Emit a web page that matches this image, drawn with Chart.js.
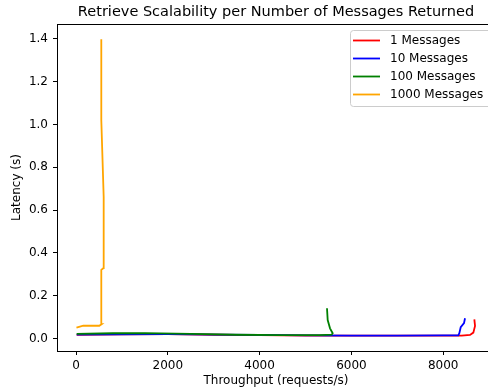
<!DOCTYPE html>
<html>
<head>
<meta charset="utf-8">
<script src="https://cdn.jsdelivr.net/npm/chart.js@4.4.1/dist/chart.umd.min.js"></script>
<style>
  html, body { margin: 0; padding: 0; background: #fff; overflow: hidden; }
  #wrap { width: 488px; height: 391px; overflow: hidden; }
  #box { position: relative; width: 496px; height: 391px; }
</style>
</head>
<body>
<div id="wrap"><div id="box"><canvas id="chart"></canvas></div></div>
<script>
const chartTitle = 'Retrieve Scalability per Number of Messages Returned';
const xTitle = 'Throughput (requests/s)';
const yTitle = 'Latency (s)';
const seriesLabels = ['1 Messages', '10 Messages', '100 Messages', '1000 Messages'];
const seriesColors = ['#ff0000', '#0000ff', '#008000', '#ffa500'];

const xTicks = [0, 2000, 4000, 6000, 8000];
const yTicks = [0, 0.2, 0.4, 0.6, 0.8, 1.0, 1.2, 1.4];

// throughput / latency pairs
const thr1 = [15, 1000, 2000, 3000, 4000, 5000, 6000, 7000, 8000, 8400, 8584, 8656, 8693, 8678];
const lat1 = [0.017, 0.019, 0.020, 0.017, 0.015, 0.013, 0.013, 0.013, 0.013, 0.013, 0.016, 0.027, 0.058, 0.089];

const thr10 = [15, 1000, 2000, 3000, 4000, 5000, 6000, 7000, 8000, 8330, 8351, 8381, 8453, 8475];
const lat10 = [0.018, 0.019, 0.020, 0.018, 0.016, 0.014, 0.013, 0.013, 0.014, 0.014, 0.024, 0.052, 0.071, 0.094];

const thr100 = [15, 800, 1500, 2500, 3500, 4500, 5300, 5570, 5592, 5534, 5483, 5468];
const lat100 = [0.021, 0.024, 0.025, 0.021, 0.017, 0.015, 0.015, 0.017, 0.024, 0.047, 0.086, 0.141];

const thr1000 = [10, 159, 508, 560, 551, 551, 595, 603, 551, 551];
const lat1000 = [0.050, 0.059, 0.059, 0.067, 0.150, 0.320, 0.328, 0.662, 1.021, 1.398];

const xs = [thr1, thr10, thr100, thr1000];
const ys = [lat1, lat10, lat100, lat1000];

const FONT = 'DejaVu Sans';

const datasets = seriesLabels.map((label, i) => ({
  label: label,
  data: xs[i].map((x, j) => ({ x: x, y: ys[i][j] })),
  borderColor: seriesColors[i],
  backgroundColor: seriesColors[i],
  borderWidth: 1.8,
  pointRadius: 0,
  tension: 0,
  order: seriesLabels.length - i // later series on top
}));

// title, top spine and matplotlib-style legend box
const decorations = {
  id: 'decorations',
  afterDraw(chart) {
    const ctx = chart.ctx;
    const a = chart.chartArea;
    ctx.save();
    ctx.strokeStyle = '#000';
    ctx.lineWidth = 1;
    ctx.beginPath();
    ctx.moveTo(a.left, a.top + 0.5);
    ctx.lineTo(a.right, a.top + 0.5);
    ctx.stroke();

    ctx.fillStyle = '#000';
    ctx.font = '14.5px "' + FONT + '"';
    ctx.textAlign = 'center';
    ctx.textBaseline = 'middle';
    ctx.fillText(chartTitle, (a.left + a.right) / 2, 12);

    // legend
    const lx = 350, ly = 30, lw = 150, lh = 76;
    ctx.fillStyle = 'rgba(255,255,255,0.8)';
    ctx.strokeStyle = '#cccccc';
    ctx.beginPath();
    ctx.roundRect(lx + 0.5, ly + 0.5, lw, lh, 3);
    ctx.fill();
    ctx.stroke();
    ctx.font = '12px "' + FONT + '"';
    ctx.textAlign = 'left';
    chart.data.datasets.forEach((ds, i) => {
      const y = 40.5 + i * 18;
      ctx.strokeStyle = ds.borderColor;
      ctx.lineWidth = 1.8;
      ctx.beginPath();
      ctx.moveTo(353, y);
      ctx.lineTo(380, y);
      ctx.stroke();
      ctx.fillStyle = '#000';
      ctx.fillText(ds.label, 390, y);
    });
    ctx.restore();
  }
};

new Chart(document.getElementById('chart'), {
  type: 'line',
  data: { datasets: datasets },
  options: {
    responsive: true,
    maintainAspectRatio: false,
    animation: false,
    layout: { padding: { top: 24, right: 1, left: 0, bottom: 0 } },
    plugins: {
      legend: { display: false },
      tooltip: { enabled: false }
    },
    scales: {
      x: {
        type: 'linear',
        min: -414,
        max: 9128,
        afterFit: (s) => { s.height = 40; },
        afterBuildTicks: (s) => { s.ticks = xTicks.map(v => ({ value: v })); },
        grid: { drawOnChartArea: false, drawTicks: true, tickLength: 4, color: '#000' },
        border: { display: true, color: '#000', width: 1 },
        ticks: {
          color: '#000',
          padding: 4,
          maxRotation: 0,
          font: { family: FONT, size: 12 },
          callback: (v) => String(v)
        },
        title: {
          display: true,
          text: xTitle,
          color: '#000',
          padding: { top: 0, bottom: 3 },
          font: { family: FONT, size: 12 }
        }
      },
      y: {
        type: 'linear',
        min: -0.059,
        max: 1.4695,
        afterFit: (s) => { s.width = 57; },
        afterBuildTicks: (s) => { s.ticks = yTicks.map(v => ({ value: v })); },
        grid: { drawOnChartArea: false, drawTicks: true, tickLength: 4, color: '#000' },
        border: { display: true, color: '#000', width: 1 },
        ticks: {
          color: '#000',
          padding: 5,
          font: { family: FONT, size: 12 },
          callback: (v) => Number(v).toFixed(1)
        },
        title: {
          display: true,
          text: yTitle,
          color: '#000',
          padding: { top: 10, bottom: 0 },
          font: { family: FONT, size: 12 }
        }
      }
    }
  },
  plugins: [decorations]
});
</script>
</body>
</html>
